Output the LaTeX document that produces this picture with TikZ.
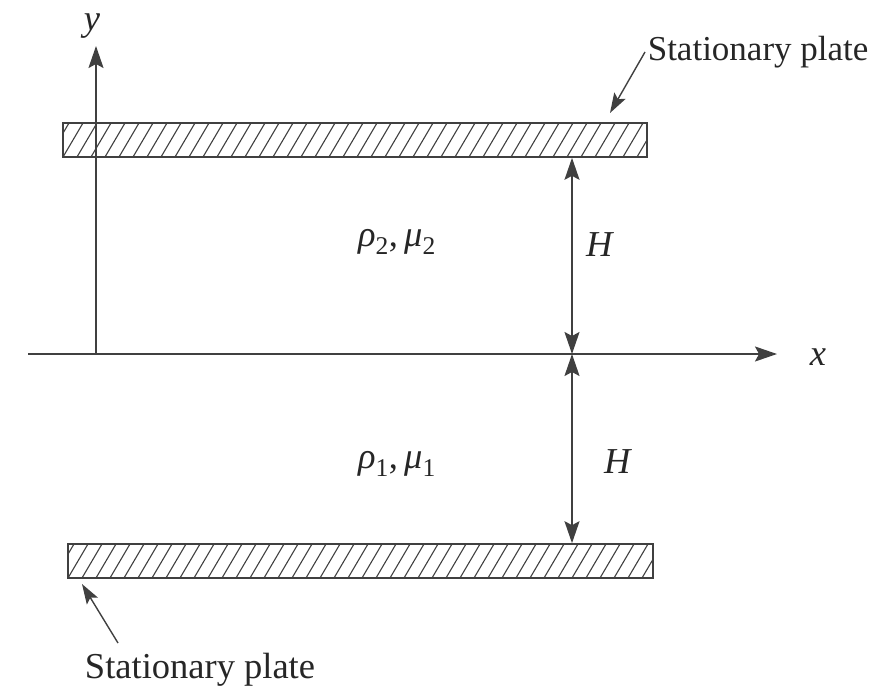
\documentclass[tikz,border=0pt]{standalone}
\usepackage{fontspec}
\setmainfont{Liberation Serif}
\usetikzlibrary{arrows.meta,calc}
\definecolor{ink}{gray}{0.25}
\begin{document}
\begin{tikzpicture}[x=1pt,y=-1pt,
  line width=1.6pt,
  tip/.tip={Stealth[length=22pt,width=15pt,inset=4pt]},
  lbl/.style={inner sep=2pt, text=black!85, font=\fontsize{36.5pt}{42pt}\selectfont},
  axis/.style={draw=ink, line width=1.8pt},
  plate/.style={draw=ink, line width=1.6pt, minimum width=#1, minimum height=34pt, inner sep=0pt,
    path picture={\foreach \i in {-3,...,44}{\draw[line width=1.1pt, ink]
      ($(path picture bounding box.south west)+(\i*14,0)$) -- ++(20,-34);}}},
  lead/.style={draw=ink, line width=1.4pt, -{Stealth[length=20pt,width=13pt,inset=4pt]}}
]
\useasboundingbox (0,0) rectangle (876,699);
% plates
\node[plate=584pt] (top) at (355,140) {};
\node[plate=585pt] (bot) at (360.5,561) {};
% axes
\coordinate (xs) at (28,354);
\coordinate (xe) at (777,354);
\coordinate (o) at (96,354);
\coordinate (ye) at (96,46);
\draw[axis,-tip] (xs) -- (xe);
\draw[axis,-tip] (o) -- (ye);
% gap arrows
\coordinate (h) at (572,354);
\draw[axis,tip-tip] (top.south -| h) -- (h);
\draw[axis,tip-tip] (h) -- (bot.north -| h);
% labels
\node[lbl] (ylab) at (92,26) {\textit{y}};
\node[lbl] (xlab) at (818,357) {\textit{x}};
\node[lbl] (H1) at (600,245) {\textit{H}};
\node[lbl] (H2) at (618,462) {\textit{H}};
\node[lbl] (f2) at (397,242) {\textit{ρ}\textsubscript{2},\,\textit{μ}\textsubscript{2}};
\node[lbl] (f1) at (397,464) {\textit{ρ}\textsubscript{1},\,\textit{μ}\textsubscript{1}};
\node[lbl,anchor=west,font=\fontsize{35pt}{40pt}\selectfont] (st1) at (645,52) {Stationary plate};
\node[lbl] (st2) at (200,670) {Stationary plate};
% leaders
\coordinate (a1) at (610,113);
\draw[lead] (st1.west) -- (a1);
\coordinate (b1) at (118,643);
\coordinate (b2) at (82,584);
\draw[lead] (b1) -- (b2);
\end{tikzpicture}
\end{document}
